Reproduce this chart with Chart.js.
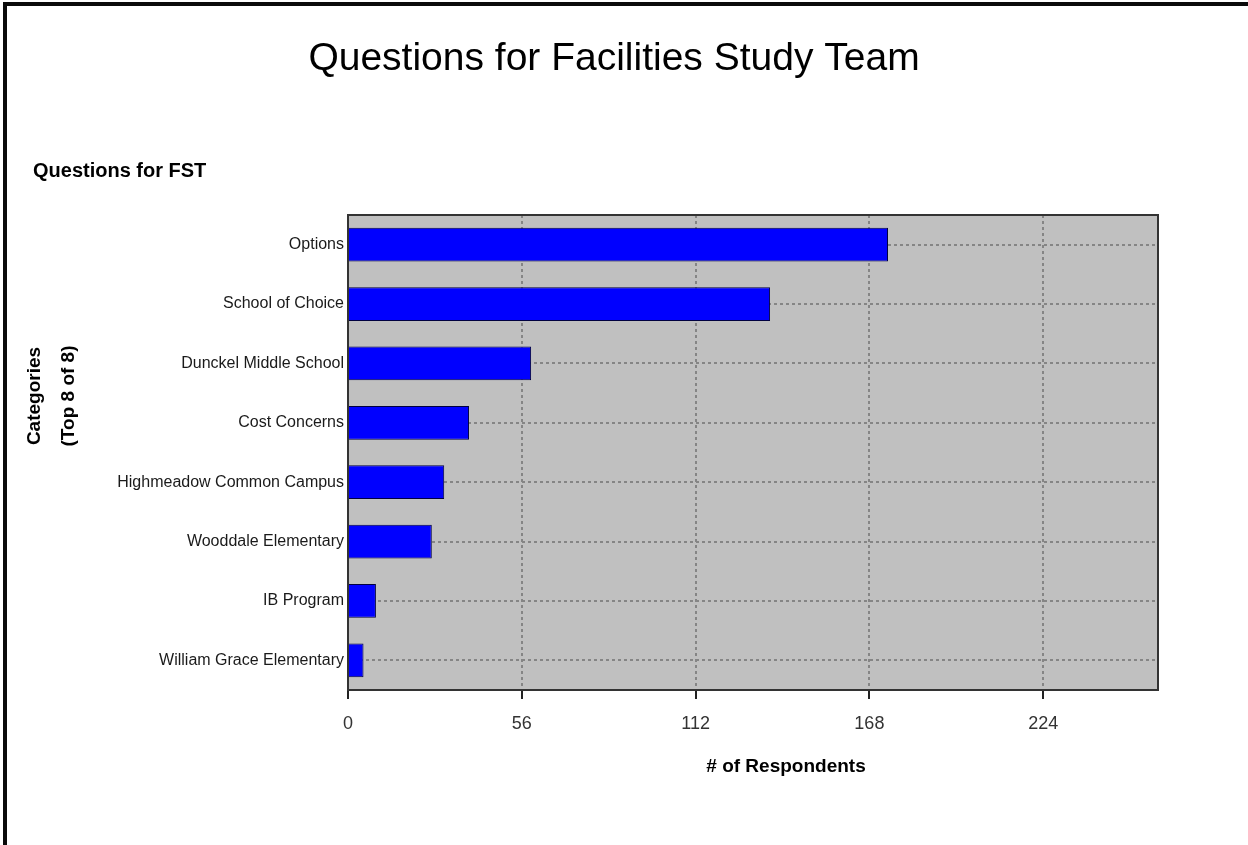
<!DOCTYPE html>
<html>
<head>
<meta charset="utf-8">
<title>Questions for Facilities Study Team</title>
<script src="https://cdn.jsdelivr.net/npm/chart.js@4/dist/chart.umd.min.js"></script>
<style>
  html, body { margin: 0; padding: 0; background: #fff; overflow: hidden; }
  #wrap { position: relative; width: 1248px; height: 845px; }
  #frame {
    position: absolute; left: 3px; top: 2px; right: 0; bottom: 0;
    border-left: 4px solid #0a0a0a; border-top: 4px solid #0a0a0a;
    pointer-events: none;
  }
</style>
</head>
<body>
<div id="wrap">
  <canvas id="fstChart"></canvas>
  <div id="frame"></div>
</div>
<script>
// ==========================
// Questions for FST - data
// ==========================

const categories = [
  "Options",
  "School of Choice",
  "Dunckel Middle School",
  "Cost Concerns",
  "Highmeadow Common Campus",
  "Wooddale Elementary",
  "IB Program",
  "William Grace Elementary"
];

const respondents = [174, 136, 59, 39, 31, 27, 9, 5];

const xTicks = [0, 56, 112, 168, 224];
const xMax = 261;

const FONT = "'Liberation Sans', Arial, sans-serif";

// grey plot background + frame round the plot
const plotArea = {
  id: "plotArea",
  beforeDraw(chart) {
    const { ctx, chartArea: a } = chart;
    ctx.save();
    ctx.fillStyle = "#c0c0c0";
    ctx.fillRect(a.left, a.top, a.right - a.left, a.bottom - a.top);
    ctx.restore();
  },
  afterDatasetsDraw(chart) {
    const { ctx, chartArea: a } = chart;
    ctx.save();
    ctx.strokeStyle = "#333";
    ctx.lineWidth = 2;
    ctx.strokeRect(a.left, a.top, a.right - a.left, a.bottom - a.top);
    ctx.restore();
  }
};

// titles (placed like the original report)
const titles = {
  id: "titles",
  afterDraw(chart) {
    const { ctx, chartArea: a } = chart;
    ctx.save();
    ctx.fillStyle = "#000";

    ctx.font = "39px " + FONT;
    ctx.textAlign = "center";
    ctx.textBaseline = "alphabetic";
    ctx.fillText("Questions for Facilities Study Team", 614, 70);

    ctx.font = "bold 20px " + FONT;
    ctx.textAlign = "left";
    ctx.fillText("Questions for FST", 33, 177);

    ctx.font = "bold 19px " + FONT;
    ctx.textAlign = "center";
    ctx.fillText("# of Respondents", (a.left + a.right) / 2 + 33, 772);

    ctx.textBaseline = "middle";
    ctx.translate(35, 396);
    ctx.rotate(-Math.PI / 2);
    ctx.fillText("Categories", 0, 0);
    ctx.fillText("(Top 8 of 8)", 0, 34);
    ctx.restore();
  }
};

const ctx = document.getElementById("fstChart").getContext("2d");

new Chart(ctx, {

  type: "bar",

  data: {
    labels: categories,
    datasets: [
      {
        label: "# of Respondents",
        data: respondents,
        backgroundColor: "#0000ff",
        borderColor: "#000040",
        borderWidth: 1,
        categoryPercentage: 1,
        barPercentage: 0.57
      }
    ]
  },

  options: {
    indexAxis: "y",
    responsive: true,
    maintainAspectRatio: false,
    animation: false,
    layout: {
      padding: { top: 215, left: 0, right: 90, bottom: 0 }
    },
    plugins: {
      legend: { display: false },
      tooltip: { enabled: false }
    },
    scales: {
      x: {
        min: 0,
        max: xMax,
        afterBuildTicks: scale => {
          scale.ticks = xTicks.map(v => ({ value: v }));
        },
        afterFit: scale => { scale.height = 155; },
        border: { display: false, dash: [3, 3] },
        grid: {
          color: "#858585",
          lineWidth: 2,
          drawTicks: true,
          tickLength: 9,
          tickColor: "#222",
          tickWidth: 2,
          tickBorderDash: []
        },
        ticks: {
          padding: 14,
          color: "#333",
          font: { family: FONT, size: 18 }
        }
      },
      y: {
        afterFit: scale => { scale.width = 348; },
        border: { display: false, dash: [3, 3] },
        grid: {
          offset: false,
          color: "#858585",
          lineWidth: 2,
          drawTicks: false
        },
        ticks: {
          padding: 4,
          color: "#1a1a1a",
          font: { family: FONT, size: 16 }
        }
      }
    }
  },

  plugins: [plotArea, titles]

});
</script>
</body>
</html>
